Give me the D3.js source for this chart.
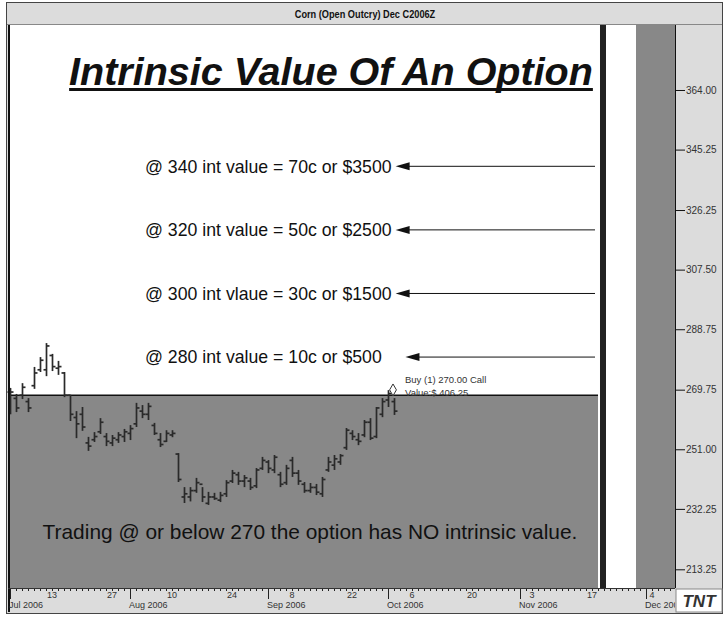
<!DOCTYPE html>
<html>
<head>
<meta charset="utf-8">
<script src="https://cdn.jsdelivr.net/npm/d3@7"></script>
<style>
  body { margin: 0; background: #fff; }
  text { font-family: "Liberation Sans", Arial, sans-serif; }
</style>
</head>
<body>
<div id="chart"></div>
<script>
var chartTitle = "Corn (Open Outcry) Dec C2006Z";
var heading = "Intrinsic Value Of An Option";
var footNote = "Trading @ or below 270 the option has NO intrinsic value.";

// first bar date, trading days skip weekends and these holidays
var barStart = "2006-07-03";
var holidays = ["2006-07-04", "2006-09-04", "2006-11-23"];

// daily OHLC
var opens  = [269, 267, 268, 266, 271, 276, 276, 280.5, 276.5, 275, 268, 261, 262, 253, 254, 256.5, 255, 253, 254, 255,
              256, 259, 263, 262, 258.5, 254, 253.5, 255.5, 249.5, 236, 236, 238, 240, 234, 236, 235, 237, 241, 243, 241,
              241, 239.5, 245, 247, 244.5, 243, 240.5, 247.5, 243.5, 240, 238, 239, 237, 244.5, 246, 247, 251.5, 256, 254, 255.5,
              259.5, 255, 262, 266.5, 266];
var highs  = [270.3, 268.4, 271.8, 267.1, 276.9, 280, 284.4, 281, 278.8, 275.3, 268.1, 263, 264.3, 254.9, 256.4, 260.8, 256.1, 255.5, 256.4, 257.4,
              258.6, 265.6, 264.9, 265.6, 259.3, 256.1, 257, 257, 249.8, 239.1, 239.1, 242, 239.1, 237.6, 237.3, 237.6, 241.3, 244.5, 243.9, 242.9,
              242, 245.1, 248.6, 247.6, 249.2, 243.9, 246.1, 248.6, 244.5, 240.7, 240.4, 240.1, 242.3, 248.6, 249.2, 249.5, 257.7, 257, 256.1, 260.2,
              260.8, 264.3, 267.1, 269.6, 267.1];
var lows   = [262, 262.7, 266.8, 262.7, 270, 275.3, 274, 275.6, 274.4, 267.4, 259.9, 254.5, 256.8, 250.5, 253.3, 255.8, 252, 252, 253, 253.3,
              253.9, 258, 260.8, 260.2, 255.5, 251.7, 253.3, 254.8, 240.7, 234.1, 234.6, 237.3, 234.4, 233.5, 235.1, 234.4, 236, 240.4, 239.8, 239.1,
              238.2, 238.8, 244.5, 243.5, 243.5, 239.1, 239.8, 242.3, 239.8, 237.3, 237.3, 236.6, 236, 243.9, 244.5, 246.1, 250.8, 253.9, 252.3, 254.8,
              253.9, 254.5, 261.1, 264.3, 261.8];
var closes = [269, 264, 270.5, 264, 275, 279, 283.5, 277, 277, 268, 262, 259, 258, 252, 255, 259.5, 253.5, 254.5, 255.5, 256.5,
              257.5, 264, 262, 264.5, 256, 252.5, 256, 256, 241.5, 237, 238, 240.5, 236, 236, 235.5, 236.5, 240.5, 243.5, 241, 242,
              239, 244.5, 247.5, 245, 248.5, 240, 245, 243.5, 241, 238, 239, 237.5, 241.5, 247, 248, 249, 257, 255, 253.5, 259.5,
              254.5, 264, 266, 268.5, 263];

// price levels with their notes
var levelPrices = [340, 320, 300, 280];
var levelLabels = ["@ 340 int value = 70c or $3500",
                   "@ 320 int value = 50c or $2500",
                   "@ 300 int vlaue = 30c or $1500",
                   "@ 280 int value = 10c or $500\u00a0\u00a0\u00a0\u00a0"];

var strikePrice = 270;
var shadeLevel = 268;
var buyDate = "2006-10-03";
var buyText = ["Buy (1) 270.00 Call", "Value:$ 406.25"];

var yTickValues = [213.25, 232.25, 251.00, 269.75, 288.75, 307.50, 326.25, 345.25, 364.00];

var dayTickDates = ["2006-07-13", "2006-07-27", "2006-08-10", "2006-08-24", "2006-09-08", "2006-09-22",
                    "2006-10-06", "2006-10-20", "2006-11-03", "2006-11-17", "2006-12-04"];
var monthStartDates = ["2006-07-03", "2006-08-01", "2006-09-01", "2006-10-02", "2006-11-01", "2006-12-01"];
var monthLabels = ["Jul 2006", "Aug 2006", "Sep 2006", "Oct 2006", "Nov 2006", "Dec 2006"];

// trading-day slot of the dark marker column
var markerDay = 98;

function init() {
    var W = 723, H = 617;
    var plot = {left: 8, right: 675, top: 25, bottom: 588};

    var parse = d3.timeParse("%Y-%m-%d");
    var fmt = d3.timeFormat("%Y-%m-%d");
    var start = parse(barStart);

    // count trading days from barStart
    function tradingIndex(s) {
        var d = parse(s), n = 0;
        d3.timeDay.range(start, d).forEach(function(day) {
            var wd = day.getDay();
            if (wd !== 0 && wd !== 6 && holidays.indexOf(fmt(day)) < 0) n++;
        });
        return n;
    }

    var x = d3.scaleLinear().domain([-1/3, 110.83]).range([plot.left, plot.right]);
    var y = d3.scaleLinear().domain([207.37, 384.44]).range([plot.bottom, plot.top]);

    var svg = d3.select("#chart").append("svg")
        .attr("width", W)
        .attr("height", H);

    // outer frame + title bar
    svg.append("rect").attr("x", 6.5).attr("y", 2.5).attr("width", 716).attr("height", 611)
        .attr("fill", "#dcdcdc").attr("stroke", "#444");
    svg.append("line").attr("x1", 7).attr("x2", 722).attr("y1", 24.5).attr("y2", 24.5)
        .attr("stroke", "#888");
    svg.append("text")
        .attr("transform", "translate(365,17.5) scale(0.8,1)")
        .attr("text-anchor", "middle")
        .style("font-weight", "bold")
        .style("font-size", "11.5px")
        .attr("fill", "#111")
        .text(chartTitle);

    // plot background
    svg.append("rect")
        .attr("x", plot.left).attr("y", plot.top)
        .attr("width", plot.right - plot.left).attr("height", plot.bottom - plot.top)
        .attr("fill", "#fff");

    // shaded region at or below the strike
    svg.append("rect")
        .attr("x", plot.left)
        .attr("y", y(shadeLevel))
        .attr("width", x(markerDay) - plot.left)
        .attr("height", plot.bottom - y(shadeLevel))
        .attr("fill", "#888888");
    svg.append("line")
        .attr("x1", plot.left).attr("x2", x(markerDay))
        .attr("y1", y(shadeLevel)).attr("y2", y(shadeLevel))
        .attr("stroke", "#111").attr("stroke-width", 1.5);

    // marker column on the right of the plot
    svg.append("rect")
        .attr("x", x(markerDay + 0.33)).attr("y", plot.top)
        .attr("width", 6).attr("height", plot.bottom - plot.top)
        .attr("fill", "#222");
    svg.append("rect")
        .attr("x", x(104.33)).attr("y", plot.top)
        .attr("width", plot.right - x(104.33)).attr("height", plot.bottom - plot.top)
        .attr("fill", "#888888");

    // OHLC bars
    var bars = svg.append("g").attr("stroke", "#2a2a2a").attr("stroke-width", 1.7);
    opens.forEach(function(o, i) {
        var cx = Math.round(x(i)) + 0.5;
        bars.append("line").attr("x1", cx).attr("x2", cx)
            .attr("y1", y(highs[i])).attr("y2", y(lows[i]));
        bars.append("line").attr("x1", cx - 3).attr("x2", cx)
            .attr("y1", y(o)).attr("y2", y(o));
        bars.append("line").attr("x1", cx).attr("x2", cx + 3)
            .attr("y1", y(closes[i])).attr("y2", y(closes[i]));
    });

    // heading
    var hd = svg.append("text")
        .attr("x", 331).attr("y", 85)
        .attr("text-anchor", "middle")
        .style("font-weight", "bold")
        .style("font-style", "italic")
        .style("font-size", "39.5px")
        .attr("fill", "#111")
        .text(heading);
    var hw = hd.node().getComputedTextLength();
    svg.append("rect")
        .attr("x", 331 - hw / 2).attr("y", 88)
        .attr("width", hw).attr("height", 3)
        .attr("fill", "#111");

    // level notes with arrows
    levelPrices.forEach(function(p, i) {
        var t = svg.append("text")
            .attr("x", 145).attr("y", y(p))
            .attr("dy", "0.36em")
            .style("font-size", "17.7px")
            .attr("fill", "#111")
            .text(levelLabels[i]);
        var tip = 145 + t.node().getComputedTextLength() + 4;
        svg.append("line")
            .attr("x1", tip + 10).attr("x2", 595)
            .attr("y1", y(p)).attr("y2", y(p))
            .attr("stroke", "#111").attr("stroke-width", 1);
        svg.append("path")
            .attr("d", "M" + tip + "," + y(p) + "L" + (tip + 14) + "," + (y(p) - 4) + "L" + (tip + 14) + "," + (y(p) + 4) + "Z")
            .attr("fill", "#111");
    });

    // buy marker
    var bi = tradingIndex(buyDate);
    svg.append("path")
        .attr("d", d3.symbol().type(d3.symbolDiamond).size(40))
        .attr("transform", "translate(" + (x(bi) - 1) + "," + (y(strikePrice) + 1) + ")")
        .attr("fill", "#fff").attr("stroke", "#333").attr("stroke-width", 1);
    buyText.forEach(function(s, i) {
        svg.append("text")
            .attr("x", 405).attr("y", 383 + i * 13)
            .style("font-size", "9.5px")
            .attr("fill", "#333")
            .text(s);
    });

    // note in the shaded area
    svg.append("text")
        .attr("x", 310).attr("y", 539)
        .attr("text-anchor", "middle")
        .style("font-size", "20.9px")
        .attr("fill", "#111")
        .text(footNote);

    // left border and plot bottom
    svg.append("line").attr("x1", plot.left + 1).attr("x2", plot.left + 1)
        .attr("y1", plot.top).attr("y2", 612).attr("stroke", "#111").attr("stroke-width", 2);
    svg.append("line").attr("x1", plot.left).attr("x2", plot.right)
        .attr("y1", plot.bottom + 0.5).attr("y2", plot.bottom + 0.5).attr("stroke", "#333");

    // right price axis
    var minor = [];
    for (var k = 0; k < yTickValues.length - 1; k++) {
        var a = yTickValues[k], b = yTickValues[k + 1];
        for (var j = 1; j < 10; j++) minor.push(a + (b - a) * j / 10);
    }
    for (var v = 364 + 1.875; v < 384; v += 1.875) minor.push(v);
    for (var v2 = 213.25 - 1.875; v2 > 207.5; v2 -= 1.875) minor.push(v2);

    var yAxisG = svg.append("g").attr("transform", "translate(" + plot.right + ",0)");
    yAxisG.call(d3.axisRight(y).tickValues(minor).tickSize(5).tickFormat(""));
    yAxisG.call(d3.axisRight(y).tickValues(yTickValues).tickSize(10).tickPadding(1).tickFormat(d3.format(".2f")));
    yAxisG.selectAll(".domain").attr("d", "M0.5," + plot.top + "V" + plot.bottom).attr("stroke", "#111");
    yAxisG.selectAll("line").attr("stroke", "#111");
    yAxisG.selectAll("text")
        .style("font-size", "10px")
        .style("font-family", "'Liberation Sans', Arial")
        .attr("fill", "#333");

    // bottom date axis
    var xg = svg.append("g");
    svg.append("clipPath").attr("id", "xclip").append("rect")
        .attr("x", plot.left).attr("y", plot.bottom).attr("width", plot.right - plot.left).attr("height", 30);
    xg.attr("clip-path", "url(#xclip)");
    xg.selectAll(".dtick").data(d3.range(0, 111)).enter().append("line")
        .attr("x1", function(d) { return Math.round(x(d)) + 0.5; })
        .attr("x2", function(d) { return Math.round(x(d)) + 0.5; })
        .attr("y1", plot.bottom + 1).attr("y2", plot.bottom + 3)
        .attr("stroke", "#222");
    xg.selectAll(".mtick").data(monthStartDates).enter().append("line")
        .attr("x1", function(d) { return Math.round(x(tradingIndex(d))) + 0.5; })
        .attr("x2", function(d) { return Math.round(x(tradingIndex(d))) + 0.5; })
        .attr("y1", plot.bottom + 1).attr("y2", plot.bottom + 11)
        .attr("stroke", "#222");
    xg.selectAll(".dlabel").data(dayTickDates).enter().append("text")
        .attr("x", function(d) { return x(tradingIndex(d)); })
        .attr("y", plot.bottom + 10)
        .attr("text-anchor", "middle")
        .style("font-size", "9px")
        .attr("fill", "#333")
        .text(function(d) { return +d.slice(8); });
    xg.selectAll(".mlabel").data(monthStartDates).enter().append("text")
        .attr("x", function(d) { return x(tradingIndex(d)) - 1; })
        .attr("y", plot.bottom + 20)
        .style("font-size", "9px")
        .attr("fill", "#333")
        .text(function(d, i) { return monthLabels[i]; });

    // logo corner
    svg.append("rect").attr("x", plot.right + 1).attr("y", plot.bottom + 1)
        .attr("width", 46).attr("height", 23).attr("fill", "#fff").attr("stroke", "#888");
    svg.append("text")
        .attr("x", 699).attr("y", 607)
        .attr("text-anchor", "middle")
        .style("font-weight", "bold")
        .style("font-style", "italic")
        .style("font-size", "17px")
        .attr("fill", "#333")
        .text("TNT");
}

init();
</script>
</body>
</html>
